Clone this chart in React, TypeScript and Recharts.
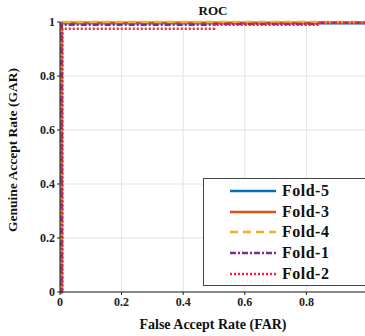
import React from "react";
import { LineChart, Line, XAxis, YAxis, CartesianGrid, Customized } from "recharts";

const xTicks = [0, 0.2, 0.4, 0.6, 0.8];
const yTicks = [0, 0.2, 0.4, 0.6, 0.8, 1];

const fold5FAR = [0, 0.004, 0.004, 1];
const fold5GAR = [0, 0, 0.995, 0.995];
const fold3FAR = [0, 0.006, 0.006, 0.84, 0.84, 1];
const fold3GAR = [0, 0, 0.997, 0.997, 0.997, 0.997];
const fold4FAR = [0, 0.005, 0.005, 1];
const fold4GAR = [0, 0, 1, 1];
const fold1FAR = [0, 0.006, 0.006, 0.5, 0.5, 0.84, 0.84, 1];
const fold1GAR = [0, 0, 0.99, 0.99, 0.993, 0.993, 0.997, 0.997];
const fold2FAR = [0, 0.008, 0.008, 0.5, 0.5, 0.84, 0.84, 1];
const fold2GAR = [0, 0, 0.975, 0.975, 0.99, 0.99, 0.996, 0.996];

const toRows = (xs: number[], ys: number[]) => xs.map((x, i) => ({ x, y: ys[i] }));

const series = [
  { name: "Fold-5", data: toRows(fold5FAR, fold5GAR), color: "#0072BD", dash: undefined as string | undefined },
  { name: "Fold-3", data: toRows(fold3FAR, fold3GAR), color: "#D95319", dash: undefined },
  { name: "Fold-4", data: toRows(fold4FAR, fold4GAR), color: "#EDB120", dash: "8 5" },
  { name: "Fold-1", data: toRows(fold1FAR, fold1GAR), color: "#7E2F8E", dash: "6 2 2 2" },
  { name: "Fold-2", data: toRows(fold2FAR, fold2GAR), color: "#FF1F3A", dash: "2 2" },
];

const FONT = "'Liberation Serif', 'DejaVu Serif', serif";

const LegendBox = () => (
  <div
    style={{
      position: "absolute",
      left: 203,
      top: 178,
      width: 170,
      height: 108,
      border: "1px solid #444",
      background: "#fff",
      boxSizing: "border-box",
      paddingTop: 2,
    }}
  >
    {series.map((s) => (
      <div key={s.name} style={{ display: "flex", alignItems: "center", height: 20.6 }}>
        <svg width={52} height={10} style={{ marginLeft: 24 }}>
          <line x1={2} y1={5} x2={48} y2={5} stroke={s.color} strokeWidth={2.5} strokeDasharray={s.dash} />
        </svg>
        <span style={{ fontFamily: FONT, fontWeight: "bold", fontSize: 16, color: "#111", marginLeft: 2, letterSpacing: 0.5 }}>
          {s.name}
        </span>
      </div>
    ))}
  </div>
);

export default function App() {
  return (
    <div style={{ position: "absolute", left: 0, top: 0, width: 365, height: 336, overflow: "hidden", background: "#fff" }}>
      <LineChart width={372} height={336} margin={{ top: 22, right: 4, left: 8, bottom: 0 }}>
        <CartesianGrid stroke="#e3e3e3" strokeWidth={1} />
        <XAxis
          type="number"
          dataKey="x"
          domain={[0, 1]}
          ticks={xTicks}
          tickFormatter={(v: number) => String(v)}
          stroke="#222"
          tickLine={{ stroke: "#222" }}
          tickSize={3}
          height={44}
          tick={{ fontFamily: FONT, fontWeight: "bold", fontSize: 12, fill: "#222" }}
          allowDuplicatedCategory={false}
        />
        <YAxis
          type="number"
          domain={[0, 1]}
          ticks={yTicks}
          tickFormatter={(v: number) => String(v)}
          stroke="#222"
          tickSize={3}
          width={52}
          tick={{ fontFamily: FONT, fontWeight: "bold", fontSize: 12, fill: "#222" }}
        />
        {series.map((s) => (
          <Line
            key={s.name}
            data={s.data}
            dataKey="y"
            name={s.name}
            type="linear"
            stroke={s.color}
            strokeWidth={2.5}
            strokeDasharray={s.dash}
            dot={false}
            isAnimationActive={false}
          />
        ))}
        <Customized
          component={() => (
            <g>
              <text x={213} y={15} textAnchor="middle" fontFamily={FONT} fontWeight="bold" fontSize={13} fill="#111">
                ROC
              </text>
              <text x={213} y={329} textAnchor="middle" fontFamily={FONT} fontWeight="bold" fontSize={14} fill="#111">
                False Accept Rate (FAR)
              </text>
              <text
                x={17}
                y={150}
                textAnchor="middle"
                fontFamily={FONT}
                fontWeight="bold"
                fontSize={13.5}
                fill="#111"
                transform="rotate(-90 17 150)"
              >
                Genuine Accept Rate (GAR)
              </text>
            </g>
          )}
        />
      </LineChart>
      <LegendBox />
    </div>
  );
}
